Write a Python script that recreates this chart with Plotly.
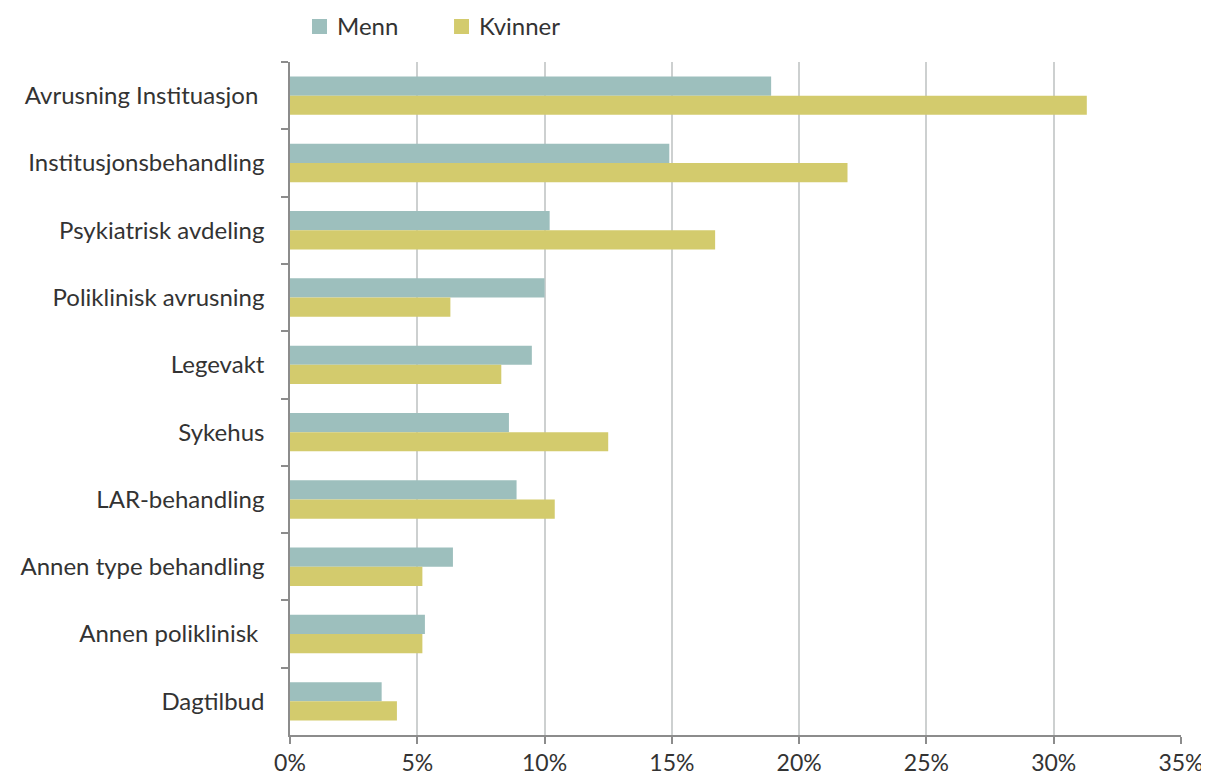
import plotly.graph_objects as go

kategorier = ['Avrusning Instituasjon\u00a0', 'Institusjonsbehandling', 'Psykiatrisk avdeling',
              'Poliklinisk avrusning', 'Legevakt', 'Sykehus', 'LAR-behandling',
              'Annen type behandling', 'Annen poliklinisk\u00a0', 'Dagtilbud']
menn = [18.9, 14.9, 10.2, 10.0, 9.5, 8.6, 8.9, 6.4, 5.3, 3.6]
kvinner = [31.3, 21.9, 16.7, 6.3, 8.3, 12.5, 10.4, 5.2, 5.2, 4.2]
x_ticks = [0, 5, 10, 15, 20, 25, 30, 35]

serier = [('Menn', menn, '#9dbfbd'), ('Kvinner', kvinner, '#d3cb6d')]

fig = go.Figure()
for navn, verdier, farge in serier:
    fig.add_trace(go.Bar(y=kategorier, x=verdier, name=navn, orientation='h',
                         marker=dict(color=farge, line=dict(width=0))))

# egen forklaring over plottet (plotly-legenden dytter marginen)
forklaring_x = [0.0247, 0.1841]
for (navn, verdier, farge), fx in zip(serier, forklaring_x):
    fig.add_shape(type='rect', xref='paper', yref='paper',
                  x0=fx, x1=fx + 0.0168, y0=1.0416, y1=1.0639,
                  fillcolor=farge, line=dict(width=0))
    fig.add_annotation(text=navn, xref='paper', yref='paper',
                       x=fx + 0.0258, y=1.0535, xanchor='left', yanchor='middle',
                       showarrow=False, font=dict(size=24))

# siden har 8px marg rundt figuren
fig.update_layout(
    width=1201, height=770,
    margin=dict(l=282, r=28, t=54, b=43),
    paper_bgcolor='white', plot_bgcolor='white',
    font=dict(family='Lato, Open Sans, sans-serif', size=24, color='#333333'),
    barmode='group', bargap=0.43, bargroupgap=0,
    showlegend=False,
)
fig.update_xaxes(range=[0, 35], tickvals=x_ticks,
                 ticktext=[f'{v}%' for v in x_ticks],
                 tickfont=dict(size=23),
                 showgrid=True, gridcolor='#cdd0d0', gridwidth=1.5,
                 showline=True, linecolor='#8c8c8c', linewidth=1.5,
                 ticks='outside', ticklen=7, tickcolor='#8c8c8c', tickwidth=1.5,
                 ticklabelstandoff=0, automargin=False,
                 zeroline=False, fixedrange=True)
fig.update_yaxes(autorange='reversed', tickson='boundaries',
                 showline=True, linecolor='#8c8c8c', linewidth=1.5,
                 ticks='outside', ticklen=7, tickcolor='#8c8c8c', tickwidth=1.5,
                 ticklabelstandoff=19, automargin=False,
                 showgrid=False, fixedrange=True)

fig.write_html('out.html')
